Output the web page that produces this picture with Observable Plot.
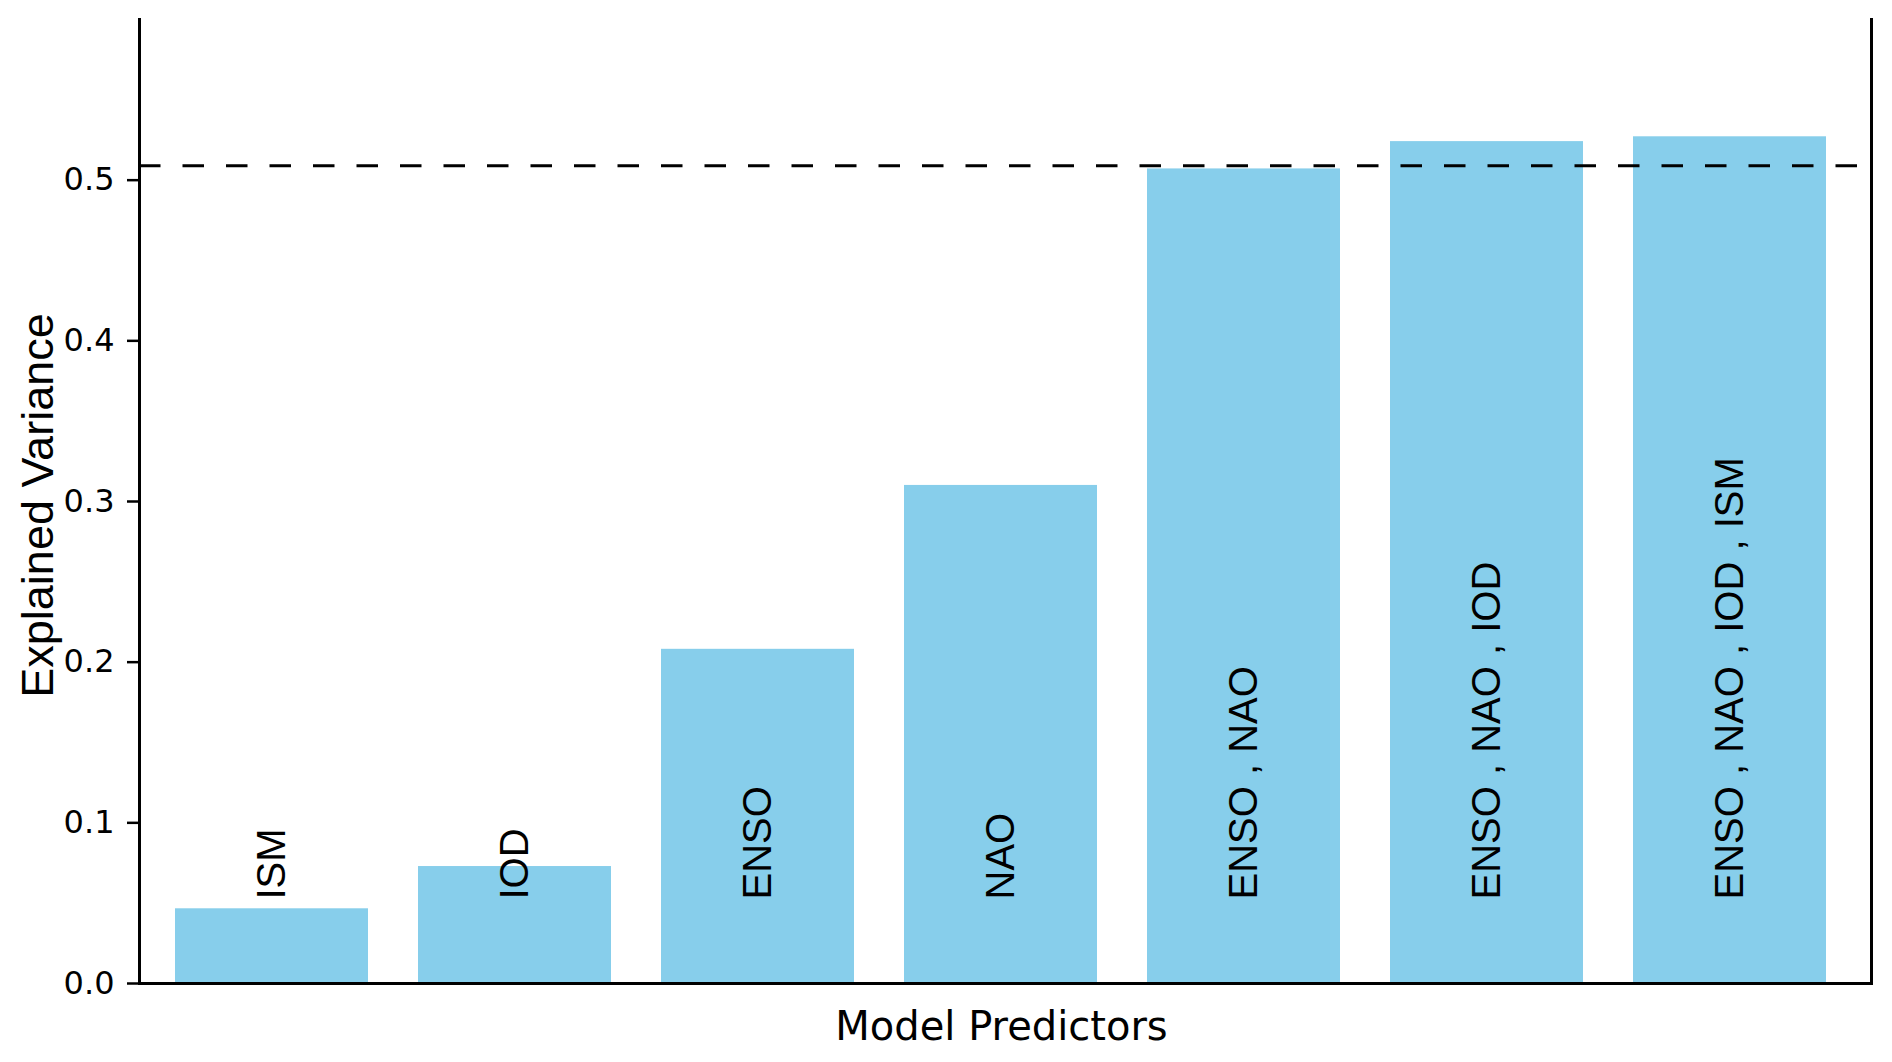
<!DOCTYPE html>
<html><head><meta charset="utf-8">
<script src="https://cdn.jsdelivr.net/npm/d3@7"></script>
<script src="https://cdn.jsdelivr.net/npm/@observablehq/plot@0.6"></script>
<style>html,body{margin:0;padding:0;background:#fff;} svg{display:block}</style>
</head><body><div id="chart"></div>
<script>
// Data
const predictors = ["ISM", "IOD", "ENSO", "NAO", "ENSO , NAO", "ENSO , NAO , IOD", "ENSO , NAO , IOD , ISM"];
const explainedVariance = [0.0465, 0.0728, 0.208, 0.310, 0.507, 0.524, 0.527];
const threshold = [0.509];
const yTicks = [0.0, 0.1, 0.2, 0.3, 0.4, 0.5];
const yLabel = ["Explained Variance"];
const xLabel = ["Model Predictors"];

const data = predictors.map((p, i) => ({predictor: p, value: explainedVariance[i]}));

const chart = Plot.plot({
  width: 1892, height: 1062,
  marginLeft: 139, marginRight: 21, marginTop: 19, marginBottom: 79,
  style: {fontFamily: "DejaVu Sans", background: "#fff", color: "#000", overflow: "visible"},
  x: {domain: predictors, paddingInner: 0.207, paddingOuter: 0.1615, align: 0.448, axis: null},
  y: {domain: [0, 0.6]},
  marks: [
    Plot.barY(data, {x: "predictor", y: "value", fill: "#87CEEB"}),
    Plot.ruleY(threshold, {stroke: "#000", strokeWidth: 3, strokeDasharray: "21.5,22"}),
    Plot.axisY({ticks: yTicks, tickFormat: d3.format(".1f"), tickSize: 12, tickPadding: 13, fontSize: 32, strokeWidth: 2.5, label: null}),
    Plot.frame({anchor: "left", stroke: "#000", strokeWidth: 3}),
    Plot.frame({anchor: "right", stroke: "#000", strokeWidth: 3}),
    Plot.frame({anchor: "bottom", stroke: "#000", strokeWidth: 3}),
    Plot.text(data, {x: "predictor", frameAnchor: "bottom", dy: -84, text: "predictor", rotate: -90,
      textAnchor: "start", lineAnchor: "middle", fontSize: 40, fontFamily: "Liberation Sans", fill: "#000"}),
    Plot.text(yLabel, {text: d => d, frameAnchor: "left", dx: -118, dy: 4, rotate: -90, textAnchor: "middle", lineAnchor: "top",
      fontSize: 45, fontFamily: "Liberation Sans", fill: "#000"}),
    Plot.text(xLabel, {text: d => d, frameAnchor: "bottom", dx: -4, dy: 28, textAnchor: "middle", lineAnchor: "top",
      fontSize: 40, fontFamily: "DejaVu Sans", fill: "#000"})
  ]
});
document.getElementById("chart").appendChild(chart);
</script>
</body></html>
